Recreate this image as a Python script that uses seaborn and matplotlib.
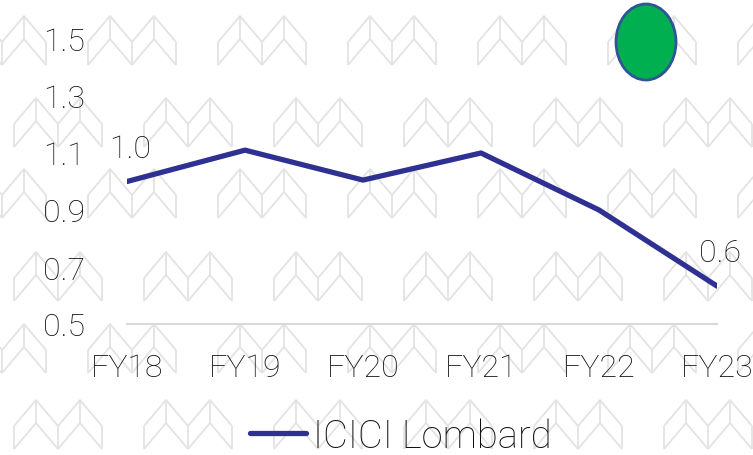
import matplotlib
matplotlib.use("Agg")
import numpy as np
import pandas as pd
import seaborn as sns
from matplotlib import pyplot as plt
from matplotlib.collections import LineCollection
from matplotlib.patches import Ellipse

# data
years = ["FY18", "FY19", "FY20", "FY21", "FY22", "FY23"]
icici = [1.00, 1.11, 1.005, 1.10, 0.90, 0.633]
label_text = {0: "1.0", 5: "0.6"}
yticks = [0.5, 0.7, 0.9, 1.1, 1.3, 1.5]

# --------------- #
sns.set_style("white")
plt.rcParams["font.family"] = ["Roboto", "DejaVu Sans"]
plt.rcParams["font.weight"] = "light"

W, H = 753, 456
fig = plt.figure(figsize=(W / 100, H / 100), dpi=100)

# watermark background : rows of double chevrons
def chevron(x0, y0):
    segs = []
    for k in range(2):
        a = x0 + 44 * k
        segs += [[(a, y0 + 26), (a + 22, y0), (a + 44, y0 + 26)],
                 [(a, y0 + 49), (a + 22, y0 + 23), (a + 44, y0 + 49)],
                 [(a, y0 + 26), (a, y0 + 49)],
                 [(a + 22, y0), (a + 22, y0 + 23)]]
    segs.append([(x0 + 88, y0 + 26), (x0 + 88, y0 + 49)])
    return segs

segs = []
for i, ry in enumerate([17, 99, 170, 253, 325, 401]):
    off = 88 if i % 2 == 0 else 14
    for x0 in range(off - 130, W + 10, 130):
        segs += chevron(x0, ry)
segs = [[(x / W, 1 - y / H) for x, y in s] for s in segs]
fig.add_artist(LineCollection(segs, colors="#e3e3e3", linewidths=1.3,
                              transform=fig.transFigure, zorder=0))

ax = fig.add_axes([127 / W, 1 - 325 / H, (717 - 127) / W, (325 - 40) / H])
ax.patch.set_alpha(0)

df = pd.DataFrame({"year": years, "val": icici})
sns.lineplot(data=df, x="year", y="val", ax=ax, color="#2e3192",
             linewidth=3.8, label="ICICI Lombard", sort=False)

for i, t in label_text.items():
    ax.annotate(t, (i, icici[i]), xytext=(2, 24), textcoords="offset points",
                ha="center", va="center", fontsize=23, color="#111111",
                fontweight="light")

ax.set_xlim(0, 5)
ax.set_ylim(0.5, 1.5)
ax.set_yticks(yticks)
ax.set_yticklabels([f"{v:.1f}" for v in yticks])
ax.set_xlabel("")
ax.set_ylabel("")
ax.tick_params(axis="both", length=0, labelsize=23, colors="#111111")
ax.tick_params(axis="y", pad=30)
ax.tick_params(axis="x", pad=21)
for s in ["top", "right", "left"]:
    ax.spines[s].set_visible(False)
ax.spines["bottom"].set_color("#d9d9d9")
ax.spines["bottom"].set_linewidth(1.5)

leg = ax.legend(loc="center",
                bbox_to_anchor=((401 - 127) / (717 - 127), (325 - 437) / (325 - 40)),
                frameon=False, fontsize=27.5, handlelength=1.45, handletextpad=0.2)
for t in leg.get_texts():
    t.set_color("#111111")

# green status dot
fig.add_artist(Ellipse((646 / W, 1 - 43 / H), 60 / W, 76 / H, transform=fig.transFigure,
                       facecolor="#00b050", edgecolor="#2f5597", linewidth=2, zorder=5))

fig.savefig("out.png", dpi=100)
